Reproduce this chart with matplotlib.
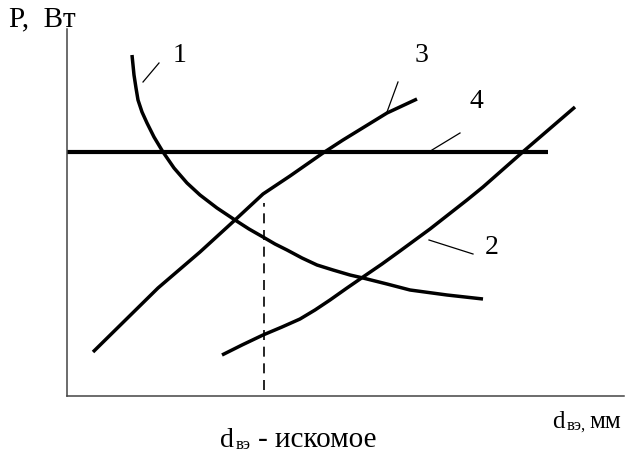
import matplotlib
matplotlib.use("Agg")
import matplotlib.pyplot as plt

# Data (axes units: x from left spine, y from bottom spine)
c1_x = [65, 66, 67, 69, 71, 75, 80, 87, 96, 107, 120, 133, 150, 168, 182, 196, 208, 220, 235, 250, 266, 283, 296, 320, 343, 380, 416]
c1_y = [341, 331, 321, 308, 296, 284, 273, 259, 244, 228, 213, 201, 188, 176, 167, 159, 152, 146, 138, 131, 126, 121, 118, 112, 106, 101, 97]

c2_x = [155, 175, 196, 215, 233, 248, 263, 280, 296, 315, 333, 363, 400, 416, 458, 508]
c2_y = [41, 51, 61, 69, 77, 86, 96, 108, 119, 132, 145, 167, 196, 209, 246, 289]

c3_x = [26, 91, 133, 168, 196, 223, 256, 276, 320, 350]
c3_y = [44, 108, 144, 176, 202, 220, 243, 256, 283, 297]

c4_x = [0, 481]
c4_y = [244, 244]

d_opt_x = 197
d_opt_y = [6, 193]

labels = ["1", "2", "3", "4"]
label_pos = {"1": (113, 341), "2": (425, 148), "3": (354, 341), "4": (409, 294)}
leaders = {"1": ((76, 314), (92, 333)), "2": ((362, 156), (406, 142)),
           "3": ((320, 284), (331, 314)), "4": ((365, 246), (393, 263))}

plt.rcParams['font.family'] = ['Liberation Serif', 'DejaVu Serif']

fig = plt.figure(figsize=(6.34, 4.54), dpi=100)
W, H = 634, 454
ax = fig.add_axes([67 / W, (H - 396) / H, (624 - 67) / W, (396 - 29) / H])
ax.set_xlim(0, 557)
ax.set_ylim(0, 367)
for s in ['top', 'right']:
    ax.spines[s].set_visible(False)
for s in ['left', 'bottom']:
    ax.spines[s].set_color('#444444')
    ax.spines[s].set_linewidth(1.1)
ax.set_xticks([])
ax.set_yticks([])

lw = 2.5
ax.plot(c1_x, c1_y, color='black', lw=lw, solid_capstyle='butt', solid_joinstyle='round', clip_on=False)
ax.plot(c2_x, c2_y, color='black', lw=lw, solid_capstyle='butt', solid_joinstyle='round', clip_on=False)
ax.plot(c3_x, c3_y, color='black', lw=lw, solid_capstyle='butt', solid_joinstyle='round', clip_on=False)
ax.plot(c4_x, c4_y, color='black', lw=3.0, solid_capstyle='butt', clip_on=False)
ax.plot([d_opt_x, d_opt_x], d_opt_y, color='black', lw=1.2, dashes=(6, 4))

for lab in labels:
    (x0, y0), (x1, y1) = leaders[lab]
    ax.plot([x0, x1], [y0, y1], color='black', lw=0.9)
    ax.text(*label_pos[lab], lab, fontsize=20, ha='center', va='center')

ax.text(-58, 370, "P,  Вт", fontsize=21, ha='left', va='baseline', clip_on=False)

ax.text(485, -32, "d", fontsize=18, ha='left', va='baseline')
ax.text(500, -34, "вэ,", fontsize=12, ha='left', va='baseline')
ax.text(522, -32, "мм", fontsize=18, ha='left', va='baseline')

ax.text(153, -51, "d", fontsize=20, ha='left', va='baseline')
ax.text(169, -53, "вэ", fontsize=12, ha='left', va='baseline')
ax.text(191, -51, "- искомое", fontsize=21, ha='left', va='baseline')

fig.savefig("out.png", dpi=100)
